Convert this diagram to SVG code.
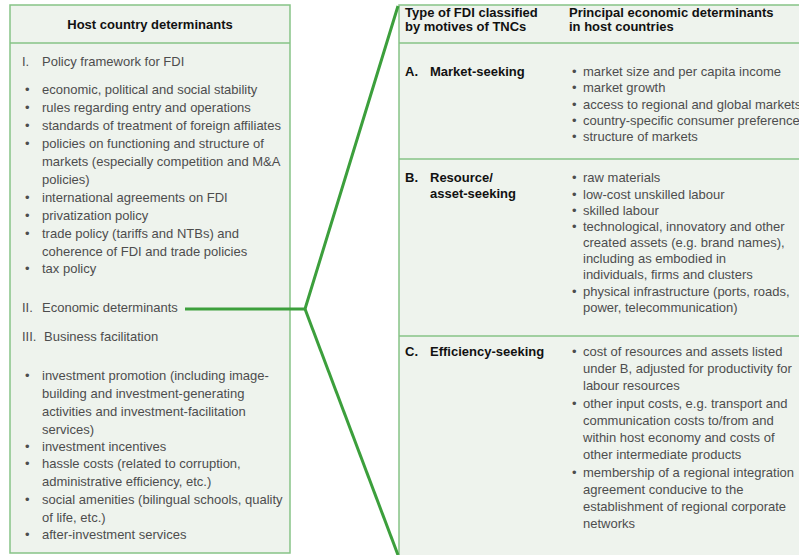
<svg xmlns="http://www.w3.org/2000/svg" width="799" height="555" viewBox="0 0 799 555">
<style>
.box{fill:#eef3ed;stroke:#86c386;stroke-width:1.5}
.div{stroke:#86c386;stroke-width:1.5}
text{font-family:"Liberation Sans",Arial,sans-serif;font-size:13px}
.h{font-weight:bold;fill:#111}
.t{fill:#4d4d4d}
.conn{fill:none;stroke:#3c9f3c;stroke-width:3;stroke-linejoin:miter}
</style>
<rect width="799" height="555" fill="#ffffff"/>
<g id="host-country-determinants">
<rect class="box" x="10" y="5" width="280" height="548"/>
<line class="div" x1="10" y1="43" x2="290" y2="43"/>
<text class="h" x="150" y="29" text-anchor="middle">Host country determinants</text>
<text class="t" x="22" y="66">I.</text><text class="t" x="42" y="66">Policy framework for FDI</text>
<g class="t">
<text x="25" y="94">•</text><text x="42" y="94">economic, political and social stability</text>
<text x="25" y="112">•</text><text x="42" y="112">rules regarding entry and operations</text>
<text x="25" y="130">•</text><text x="42" y="130">standards of treatment of foreign affiliates</text>
<text x="25" y="148">•</text><text x="42" y="148">policies on functioning and structure of</text>
<text x="42" y="166">markets (especially competition and M&amp;A</text>
<text x="42" y="184">policies)</text>
<text x="25" y="202">•</text><text x="42" y="202">international agreements on FDI</text>
<text x="25" y="220">•</text><text x="42" y="220">privatization policy</text>
<text x="25" y="238">•</text><text x="42" y="238">trade policy (tariffs and NTBs) and</text>
<text x="42" y="256">coherence of FDI and trade policies</text>
<text x="25" y="273">•</text><text x="42" y="273">tax policy</text>
</g>
<text class="t" x="22" y="312">II.</text><text class="t" x="42" y="312">Economic determinants</text>
<text class="t" x="22" y="341">III.</text><text class="t" x="44" y="341">Business facilitation</text>
<g class="t">
<text x="25" y="380">•</text><text x="42" y="380">investment promotion (including image-</text>
<text x="42" y="398">building and investment-generating</text>
<text x="42" y="416">activities and investment-facilitation</text>
<text x="42" y="434">services)</text>
<text x="25" y="451">•</text><text x="42" y="451">investment incentives</text>
<text x="25" y="468">•</text><text x="42" y="468">hassle costs (related to corruption,</text>
<text x="42" y="486">administrative efficiency, etc.)</text>
<text x="25" y="504">•</text><text x="42" y="504">social amenities (bilingual schools, quality</text>
<text x="42" y="522">of life, etc.)</text>
<text x="25" y="539">•</text><text x="42" y="539">after-investment services</text>
</g>
</g>
<g id="fdi-types-table">
<path class="box" d="M801,5 H399 V557 H801"/>
<line class="div" x1="399" y1="43" x2="801" y2="43"/>
<line class="div" x1="399" y1="159" x2="801" y2="159"/>
<line class="div" x1="399" y1="336" x2="801" y2="336"/>
<text class="h" x="405" y="17">Type of FDI classified</text>
<text class="h" x="405" y="31">by motives of TNCs</text>
<text class="h" x="569" y="17">Principal economic determinants</text>
<text class="h" x="569" y="31">in host countries</text>
</g>
<g id="market-seeking">
<text class="h" x="405" y="76">A.</text><text class="h" x="430" y="76">Market-seeking</text>
<g class="t">
<text x="572" y="76">•</text><text x="583" y="76">market size and per capita income</text>
<text x="572" y="92">•</text><text x="583" y="92">market growth</text>
<text x="572" y="109">•</text><text x="583" y="109">access to regional and global markets</text>
<text x="572" y="125">•</text><text x="583" y="125">country-specific consumer preferences</text>
<text x="572" y="141">•</text><text x="583" y="141">structure of markets</text>
</g>
</g>
<g id="resource-seeking">
<text class="h" x="405" y="182">B.</text><text class="h" x="430" y="182">Resource/</text>
<text class="h" x="430" y="198">asset-seeking</text>
<g class="t">
<text x="572" y="182">•</text><text x="583" y="182">raw materials</text>
<text x="572" y="199">•</text><text x="583" y="199">low-cost unskilled labour</text>
<text x="572" y="215">•</text><text x="583" y="215">skilled labour</text>
<text x="572" y="231">•</text><text x="583" y="231">technological, innovatory and other</text>
<text x="583" y="247">created assets (e.g. brand names),</text>
<text x="583" y="263">including as embodied in</text>
<text x="583" y="279">individuals, firms and clusters</text>
<text x="572" y="296">•</text><text x="583" y="296">physical infrastructure (ports, roads,</text>
<text x="583" y="312">power, telecommunication)</text>
</g>
</g>
<g id="efficiency-seeking">
<text class="h" x="405" y="356">C.</text><text class="h" x="430" y="356">Efficiency-seeking</text>
<g class="t">
<text x="572" y="356">•</text><text x="583" y="356">cost of resources and assets listed</text>
<text x="583" y="373">under B, adjusted for productivity for</text>
<text x="583" y="390">labour resources</text>
<text x="572" y="408">•</text><text x="583" y="408">other input costs, e.g. transport and</text>
<text x="583" y="425">communication costs to/from and</text>
<text x="583" y="442">within host economy and costs of</text>
<text x="583" y="459">other intermediate products</text>
<text x="572" y="477">•</text><text x="583" y="477">membership of a regional integration</text>
<text x="583" y="494">agreement conducive to the</text>
<text x="583" y="511">establishment of regional corporate</text>
<text x="583" y="528">networks</text>
</g>
</g>
<g id="connectors">
<polyline class="conn" points="185,309 305,309 398,6"/>
<line class="conn" x1="305" y1="309" x2="398" y2="555"/>
</g>
</svg>
